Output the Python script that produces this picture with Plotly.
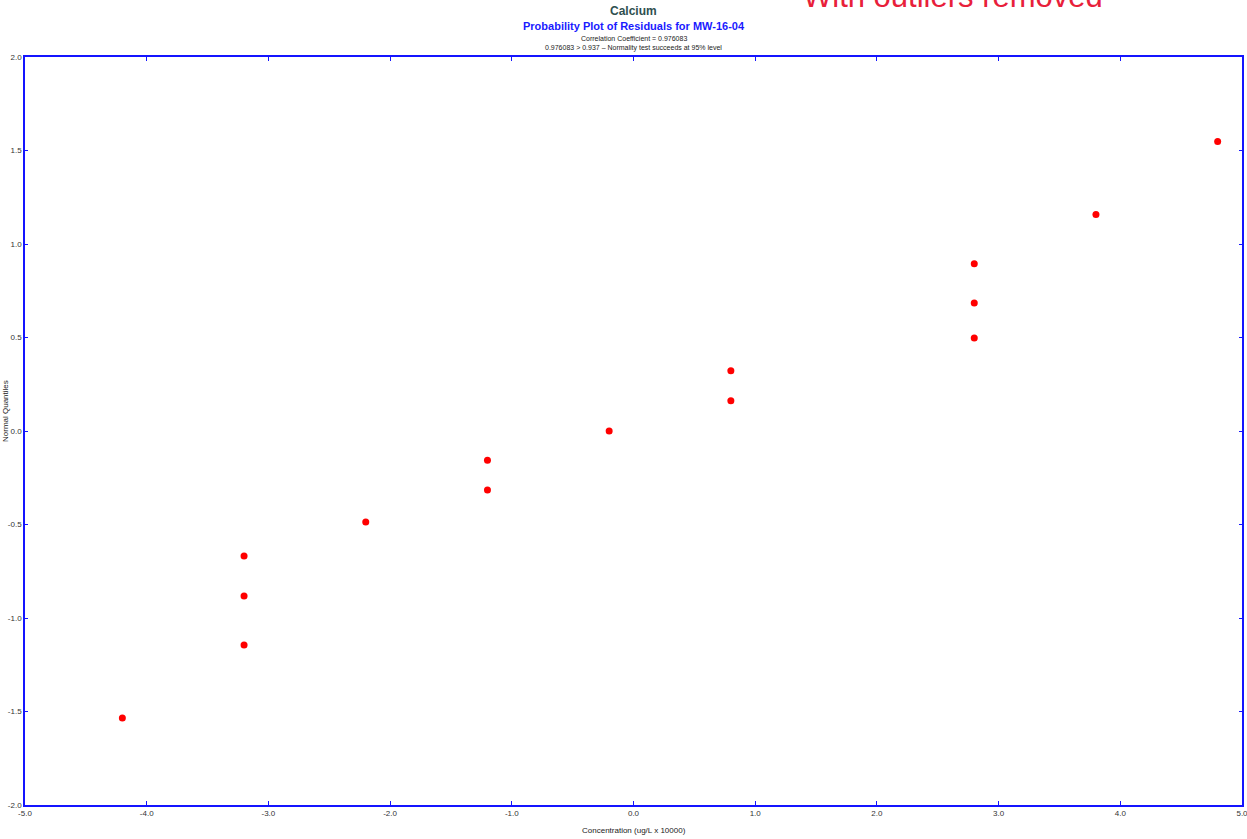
import plotly.graph_objects as go

concentration = [-4.2, -3.2, -3.2, -3.2, -2.2, -1.2, -1.2, -0.2, 0.8, 0.8, 2.8, 2.8, 2.8, 3.8, 4.8]
normal_quantiles = [-1.535, -1.144, -0.882, -0.668, -0.487, -0.316, -0.157, 0.0, 0.162, 0.322, 0.497, 0.684, 0.895, 1.158, 1.548]

x_ticks = [-5, -4, -3, -2, -1, 0, 1, 2, 3, 4, 5]
x_tick_labels = ["-5.0", "-4.0", "-3.0", "-2.0", "-1.0", "0.0", "1.0", "2.0", "3.0", "4.0", "5.0"]
y_ticks = [-2, -1.5, -1, -0.5, 0, 0.5, 1, 1.5, 2]
y_tick_labels = ["-2.0", "-1.5", "-1.0", "-0.5", "0.0", "0.5", "1.0", "1.5", "2.0"]

FONT = "Liberation Sans, Arial, sans-serif"
BLUE = "#1414ff"
L, R, T, B = 25, 5, 57, 34
PW, PH = 1247 - L - R, 839 - T - B


def py(pix):
    """paper y from pixel row"""
    return 1 + (T - pix) / PH


def px(pix):
    return (pix - L) / PW


fig = go.Figure()
fig.add_trace(go.Scatter(
    x=concentration, y=normal_quantiles, mode="markers",
    marker=dict(color="#ff0000", size=7, symbol="circle", line=dict(width=0)),
    showlegend=False, cliponaxis=False,
))

fig.update_layout(
    width=1247, height=839,
    margin=dict(l=L, r=R, t=T, b=B, autoexpand=False),
    paper_bgcolor="white", plot_bgcolor="white",
    font=dict(family=FONT, size=8, color="#333333"),
    xaxis=dict(
        range=[-5, 5], tickvals=x_ticks, ticktext=x_tick_labels,
        showgrid=False, zeroline=False, automargin=False, ticklabeloverflow="allow",
        showline=True, linecolor=BLUE, linewidth=1.5, mirror="ticks",
        ticks="inside", ticklen=4, tickcolor=BLUE, tickwidth=1,
        tickfont=dict(size=8, color="#333333", family=FONT),
    ),
    yaxis=dict(
        range=[-2, 2], tickvals=y_ticks, ticktext=y_tick_labels,
        showgrid=False, zeroline=False, automargin=False, ticklabeloverflow="allow",
        showline=True, linecolor=BLUE, linewidth=1.5, mirror="ticks",
        ticks="inside", ticklen=3, tickcolor=BLUE, tickwidth=1,
        tickfont=dict(size=8, color="#333333", family=FONT),
    ),
    annotations=[
        dict(text="<b>Calcium</b>", xref="paper", yref="paper", x=0.5, y=py(11),
             xanchor="center", showarrow=False, yanchor="middle",
             font=dict(size=12, color="#2f4f4f", family=FONT)),
        dict(text="<b>Probability Plot of Residuals for MW-16-04</b>", xref="paper", yref="paper",
             x=0.5, y=py(26), xanchor="center", showarrow=False, yanchor="middle",
             font=dict(size=11, color="#1a1aff", family=FONT)),
        dict(text="Correlation Coefficient = 0.976083", xref="paper", yref="paper",
             x=0.5, y=py(38.5), xanchor="center", showarrow=False, yanchor="middle",
             font=dict(size=7, color="#222222", family=FONT)),
        dict(text="0.976083 > 0.937 – Normality test succeeds at 95% level", xref="paper", yref="paper",
             x=0.5, y=py(48.5), xanchor="center", showarrow=False, yanchor="middle",
             font=dict(size=7, color="#222222", family=FONT)),
        dict(text="With outliers removed", xref="paper", yref="paper",
             x=px(953), y=py(-3), xanchor="center", showarrow=False, yanchor="middle",
             font=dict(size=31, color="#e8203a", family=FONT)),
        dict(text="Concentration (ug/L x 10000)", xref="paper", yref="paper",
             x=0.5, y=py(830), xanchor="center", showarrow=False, yanchor="middle",
             font=dict(size=8, color="#222222", family=FONT)),
        dict(text="Normal Quantiles", xref="paper", yref="paper",
             x=px(5), y=py(411), showarrow=False, textangle=-90, xanchor="center", yanchor="middle",
             font=dict(size=8, color="#222222", family=FONT)),
    ],
)

fig.write_html(
    "out.html",
    config={"displayModeBar": False},
    post_script="document.body.style.margin='0';document.body.style.overflow='hidden';",
)
